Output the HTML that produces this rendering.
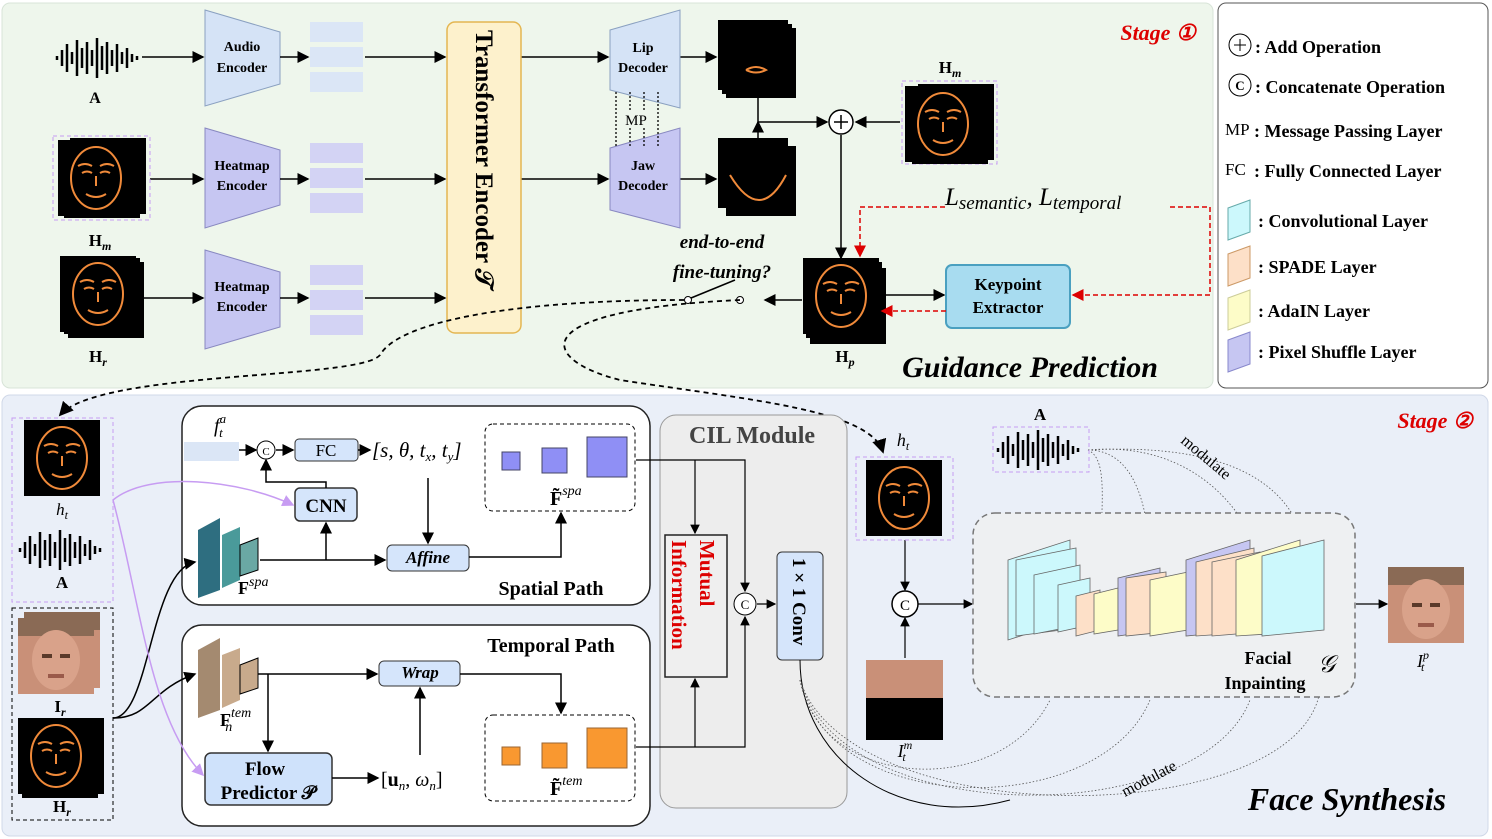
<!DOCTYPE html>
<html><head><meta charset="utf-8"><style>
body{margin:0;background:#fff}
svg{display:block}
text{font-family:"Liberation Serif",serif}
.b{font-weight:bold}
</style></head><body>
<svg width="1492" height="839" viewBox="0 0 1492 839" xmlns="http://www.w3.org/2000/svg">
<defs>
<marker id="ar" markerWidth="8" markerHeight="8" refX="7" refY="4" orient="auto"><path d="M0,0L8,4L0,8z" fill="#000"/></marker>
<marker id="arr" markerWidth="8" markerHeight="8" refX="7" refY="4" orient="auto"><path d="M0,0L8,4L0,8z" fill="#d00"/></marker>
<marker id="arp" markerWidth="8" markerHeight="8" refX="7" refY="4" orient="auto"><path d="M0,0L8,4L0,8z" fill="#c79cf2"/></marker>
<g id="hm"><rect width="76" height="76" fill="#000"/><ellipse cx="38" cy="38" rx="25" ry="31" fill="none" stroke="#f08a3a" stroke-width="2"/><path d="M20,26q7,-4 14,0M42,26q7,-4 14,0M24,33q5,-3 10,0M42,33q5,-3 10,0M38,36v10M28,54q10,6 20,0" stroke="#f08a3a" stroke-width="2" fill="none"/></g>
<g id="face"><rect width="76" height="76" fill="#c99078"/><rect y="0" width="76" height="18" fill="#8a6a55"/><ellipse cx="38" cy="42" rx="24" ry="30" fill="#d9a28a"/><rect x="24" y="36" width="10" height="4" fill="#5a3a2a"/><rect x="42" y="36" width="10" height="4" fill="#5a3a2a"/><rect x="30" y="56" width="16" height="4" fill="#9a5a4a"/></g>
<g id="wave" stroke="#000" stroke-width="2.5">
<path d="M0,18v4M5,12v16M10,6v28M15,14v12M20,2v36M25,10v20M30,4v32M35,12v16M40,0v40M45,8v24M50,4v32M55,12v16M60,6v28M65,14v12M70,10v20M75,16v8M80,18v4"/></g>
</defs>

<rect x="2" y="3" width="1211" height="385" rx="8" fill="#eef6ec" stroke="#d8e4d8"/>
<rect x="1218" y="3" width="270" height="385" rx="8" fill="#fff" stroke="#555"/>
<rect x="2" y="395" width="1486" height="441" rx="8" fill="#eaeff8" stroke="#d0d8e8"/>

<use href="#wave" x="57" y="38"/>
<text x="95" y="103" font-size="16" class="b" text-anchor="middle">A</text>
<polygon points="205,10 280,32 280,84 205,106" fill="#d5e3f6" stroke="#8aa0c0"/>
<text x="242" y="51" font-size="14" class="b" text-anchor="middle">Audio</text>
<text x="242" y="72" font-size="14" class="b" text-anchor="middle">Encoder</text>
<polygon points="205,128 280,150 280,205 205,228" fill="#c6c6f2" stroke="#8888c0"/>
<text x="242" y="170" font-size="14" class="b" text-anchor="middle">Heatmap</text>
<text x="242" y="190" font-size="14" class="b" text-anchor="middle">Encoder</text>
<polygon points="205,250 280,272 280,327 205,349" fill="#c6c6f2" stroke="#8888c0"/>
<text x="242" y="291" font-size="14" class="b" text-anchor="middle">Heatmap</text>
<text x="242" y="311" font-size="14" class="b" text-anchor="middle">Encoder</text>
<g fill="#dbe6f6"><rect x="310" y="22" width="53" height="20"/><rect x="310" y="47" width="53" height="20"/><rect x="310" y="72" width="53" height="20"/></g>
<g fill="#d3d3f4"><rect x="310" y="143" width="53" height="20"/><rect x="310" y="168" width="53" height="20"/><rect x="310" y="193" width="53" height="20"/></g>
<g fill="#d3d3f4"><rect x="310" y="265" width="53" height="20"/><rect x="310" y="290" width="53" height="20"/><rect x="310" y="315" width="53" height="20"/></g>
<g stroke="#000" stroke-width="1.5" fill="none" marker-end="url(#ar)">
<path d="M142,57H203"/><path d="M150,179H203"/><path d="M140,298H203"/>
<path d="M280,57H308"/><path d="M280,179H308"/><path d="M280,298H308"/>
<path d="M365,57H445"/><path d="M365,179H445"/><path d="M365,298H445"/>
<path d="M521,57H608"/><path d="M521,179H608"/>
<path d="M680,57H716"/><path d="M680,179H716"/>
<path d="M758,57V122H827"/><path d="M758,179V122"/>
<path d="M900,122H856"/><path d="M841,135V258"/>
<path d="M882,295H944"/>
<path d="M802,300H765"/>
</g>
<rect x="447" y="22" width="74" height="311" rx="8" fill="#fdf1cc" stroke="#e4b651" stroke-width="1.5"/>
<text transform="translate(476,30) rotate(90)" font-size="25" class="b">Transformer Encoder 𝒯</text>
<polygon points="610,30 680,10 680,108 610,90" fill="#d5e3f6" stroke="#8aa0c0"/>
<text x="643" y="52" font-size="14" class="b" text-anchor="middle">Lip</text>
<text x="643" y="72" font-size="14" class="b" text-anchor="middle">Decoder</text>
<polygon points="610,148 680,128 680,228 610,210" fill="#c6c6f2" stroke="#8888c0"/>
<text x="643" y="170" font-size="14" class="b" text-anchor="middle">Jaw</text>
<text x="643" y="190" font-size="14" class="b" text-anchor="middle">Decoder</text>
<g stroke="#000" stroke-dasharray="2,2" stroke-width="1.3"><path d="M616,92V146M630,92V146M644,92V146M658,92V146"/></g>
<rect x="620" y="110" width="32" height="18" fill="#eef6ec"/>
<text x="636" y="125" font-size="15" font-family="Liberation Sans" text-anchor="middle">MP</text>
<rect x="726" y="28" width="70" height="70" fill="#000"/><rect x="722" y="24" width="70" height="70" fill="#000"/><rect x="718" y="20" width="70" height="70" fill="#000"/>
<path d="M746,70q10,-6 20,0q-10,5 -20,0" stroke="#f08a3a" fill="none" stroke-width="2"/>
<rect x="726" y="146" width="70" height="70" fill="#000"/><rect x="718" y="138" width="70" height="70" fill="#000"/>
<path d="M730,175q30,50 56,0" stroke="#f08a3a" fill="none" stroke-width="2"/>
<circle cx="841" cy="122" r="12" fill="#fff" stroke="#000" stroke-width="1.5"/><path d="M834,122h14M841,115v14" stroke="#000" stroke-width="1.5"/>
<text x="950" y="73" font-size="17" class="b" text-anchor="middle">H<tspan font-size="12" dy="4" font-style="italic">m</tspan></text>
<rect x="902" y="81" width="95" height="83" fill="none" stroke="#c79cf2" stroke-dasharray="4,3"/>
<use href="#hm" x="918" y="84"/><use href="#hm" x="912" y="88"/><use href="#hm" x="905" y="86"/>
<rect x="53" y="136" width="97" height="84" fill="none" stroke="#c79cf2" stroke-dasharray="4,3"/>
<use href="#hm" x="70" y="138"/><use href="#hm" x="64" y="142"/><use href="#hm" x="58" y="140"/>
<text x="100" y="246" font-size="17" class="b" text-anchor="middle">H<tspan font-size="12" dy="4" font-style="italic">m</tspan></text>
<use href="#hm" x="68" y="262"/><use href="#hm" x="64" y="258"/><use href="#hm" x="60" y="256"/>
<text x="98" y="362" font-size="17" class="b" text-anchor="middle">H<tspan font-size="12" dy="4" font-style="italic">r</tspan></text>
<use href="#hm" x="810" y="268"/><use href="#hm" x="806" y="262"/><use href="#hm" x="803" y="258"/>
<text x="845" y="362" font-size="17" class="b" text-anchor="middle">H<tspan font-size="12" dy="4" font-style="italic">p</tspan></text>
<rect x="946" y="265" width="124" height="63" rx="6" fill="#a8dcf0" stroke="#4aa0c0" stroke-width="2"/>
<text x="1008" y="290" font-size="17" class="b" text-anchor="middle">Keypoint</text>
<text x="1008" y="313" font-size="17" class="b" text-anchor="middle">Extractor</text>
<g stroke="#d00" stroke-width="1.5" stroke-dasharray="5,3" fill="none">
<path d="M945,207H860V256" marker-end="url(#arr)"/>
<path d="M1170,207H1210V295H1073" marker-end="url(#arr)"/>
<path d="M946,311H882" marker-end="url(#arr)"/>
</g>
<text x="945" y="205" font-size="25" font-style="italic">L<tspan font-size="19" dy="4">semantic</tspan><tspan dy="-4">, L</tspan><tspan font-size="19" dy="4">temporal</tspan></text>
<text x="722" y="248" font-size="19" class="b" font-style="italic" text-anchor="middle">end-to-end</text>
<text x="722" y="278" font-size="19" class="b" font-style="italic" text-anchor="middle">fine-tuning?</text>
<circle cx="688" cy="300" r="3.5" fill="#fff" stroke="#000"/><circle cx="740" cy="300" r="3.5" fill="#fff" stroke="#000"/>
<path d="M691,298L735,280" stroke="#000" stroke-width="1.5"/>
<text x="1030" y="377" font-size="30" class="b" font-style="italic" text-anchor="middle">Guidance Prediction</text>
<text x="1158" y="40" font-size="22" class="b" font-style="italic" fill="#d00" text-anchor="middle">Stage ①</text>
<g stroke="#000" stroke-width="1.8" stroke-dasharray="5,4" fill="none">
<path d="M684,300C520,300 400,320 380,355C360,380 100,370 60,415" marker-end="url(#ar)"/>
<path d="M740,300C520,310 540,360 620,380C750,400 870,410 883,452" marker-end="url(#ar)"/>
</g>

<g font-size="18" class="b">
<circle cx="1240" cy="45" r="11" fill="none" stroke="#000"/><path d="M1234,45h12M1240,39v12" stroke="#000"/>
<text x="1255" y="53" class="b">: Add Operation</text>
<circle cx="1240" cy="85" r="11" fill="none" stroke="#000"/><text x="1240" y="90" font-size="13" font-family="Liberation Sans" text-anchor="middle">C</text>
<text x="1255" y="93" class="b">: Concatenate Operation</text>
<text x="1225" y="135" font-family="Liberation Sans" font-weight="normal" font-size="17">MP</text><text x="1254" y="137" class="b">: Message Passing Layer</text>
<text x="1225" y="175" font-family="Liberation Sans" font-weight="normal" font-size="17">FC</text><text x="1254" y="177" class="b">: Fully Connected Layer</text>
<polygon points="1228,208 1250,200 1250,232 1228,240" fill="#ccf8fc" stroke="#6aa"/><text x="1258" y="227" class="b">: Convolutional Layer</text>
<polygon points="1228,254 1250,246 1250,278 1228,286" fill="#fde0c8" stroke="#c96"/><text x="1258" y="273" class="b">: SPADE Layer</text>
<polygon points="1228,298 1250,290 1250,322 1228,330" fill="#fdfcc8" stroke="#cc9"/><text x="1258" y="317" class="b">: AdaIN Layer</text>
<polygon points="1228,340 1250,332 1250,364 1228,372" fill="#c6c6f2" stroke="#88c"/><text x="1258" y="358" class="b">: Pixel Shuffle Layer</text>
</g>

<text x="1435" y="428" font-size="22" class="b" font-style="italic" fill="#d00" text-anchor="middle">Stage ②</text>
<rect x="12" y="418" width="101" height="184" fill="none" stroke="#c79cf2" stroke-dasharray="4,3"/>
<use href="#hm" x="24" y="420"/>
<text x="62" y="515" font-size="17" font-style="italic" text-anchor="middle">h<tspan font-size="12" dy="4">t</tspan></text>
<use href="#wave" x="20" y="530"/>
<text x="62" y="588" font-size="17" class="b" text-anchor="middle">A</text>
<rect x="12" y="608" width="101" height="212" fill="none" stroke="#000" stroke-dasharray="4,3"/>
<use href="#face" x="24" y="612"/><use href="#face" x="18" y="618"/>
<text x="60" y="712" font-size="17" class="b" text-anchor="middle">I<tspan font-size="12" dy="4" font-style="italic">r</tspan></text>
<use href="#hm" x="28" y="718"/><use href="#hm" x="22" y="722"/><use href="#hm" x="18" y="718"/>
<text x="62" y="812" font-size="17" class="b" text-anchor="middle">H<tspan font-size="12" dy="4" font-style="italic">r</tspan></text>

<rect x="182" y="406" width="468" height="199" rx="20" fill="#fff" stroke="#222" stroke-width="1.5"/>
<rect x="182" y="625" width="468" height="201" rx="20" fill="#fff" stroke="#222" stroke-width="1.5"/>
<text x="214" y="432" font-size="20" font-style="italic">f<tspan font-size="13" dy="-9">a</tspan><tspan font-size="13" dx="-7" dy="14">t</tspan></text>
<rect x="184" y="442" width="55" height="19" fill="#dbe6f6"/>
<circle cx="266" cy="450" r="9" fill="#fff" stroke="#000"/><text x="266" y="455" font-size="11" font-family="Liberation Sans" text-anchor="middle">C</text>
<rect x="295" y="439" width="63" height="22" rx="4" fill="#d5e5fb" stroke="#333"/><text x="326" y="456" font-size="17" font-family="Liberation Sans" text-anchor="middle">FC</text>
<text x="372" y="457" font-size="21" font-style="italic">[s, θ, t<tspan font-size="13" dy="4">x</tspan><tspan dy="-4">, t</tspan><tspan font-size="13" dy="4">y</tspan><tspan dy="-4">]</tspan></text>
<rect x="295" y="488" width="62" height="33" rx="5" fill="#d5e5fb" stroke="#333" stroke-width="1.5"/><text x="326" y="512" font-size="19" class="b" text-anchor="middle">CNN</text>
<rect x="387" y="545" width="82" height="26" rx="5" fill="#d5e5fb" stroke="#333"/><text x="428" y="563" font-size="17" class="b" font-style="italic" text-anchor="middle">Affine</text>
<rect x="485" y="424" width="150" height="87" rx="8" fill="none" stroke="#000" stroke-dasharray="4,3"/>
<rect x="502" y="452" width="18" height="18" fill="#8f8ff5" stroke="#446"/><rect x="542" y="448" width="25" height="25" fill="#8f8ff5" stroke="#446"/><rect x="587" y="437" width="40" height="40" fill="#8f8ff5" stroke="#446"/>
<text x="550" y="505" font-size="20" class="b">F̃<tspan font-size="14" font-style="italic" font-weight="normal" dy="-10">spa</tspan></text>
<polygon points="198,530 220,518 220,590 198,598" fill="#2e6e80"/><polygon points="222,535 240,527 240,580 222,588" fill="#4a9a9a"/><polygon points="240,545 258,538 258,570 240,576" fill="#6aa8a4" stroke="#000"/>
<text x="238" y="594" font-size="18" class="b">F<tspan font-size="14" font-style="italic" font-weight="normal" dy="-8">spa</tspan></text>
<text x="551" y="595" font-size="20" class="b" text-anchor="middle">Spatial Path</text>
<text x="551" y="652" font-size="20" class="b" text-anchor="middle">Temporal Path</text>
<polygon points="198,650 220,638 220,710 198,718" fill="#a48a70"/><polygon points="222,655 240,648 240,700 222,708" fill="#c8aa8c"/><polygon points="240,665 258,658 258,688 240,694" fill="#c8aa8c" stroke="#000"/>
<text x="220" y="726" font-size="18" class="b">F<tspan font-size="14" font-style="italic" font-weight="normal" dy="-9">tem</tspan><tspan font-size="14" font-style="italic" font-weight="normal" dx="-26" dy="14">n</tspan></text>
<rect x="379" y="661" width="81" height="25" rx="5" fill="#d5e5fb" stroke="#333"/><text x="420" y="678" font-size="17" class="b" font-style="italic" text-anchor="middle">Wrap</text>
<rect x="205" y="753" width="127" height="52" rx="6" fill="#cfe2fb" stroke="#333" stroke-width="1.5"/>
<text x="265" y="775" font-size="19" class="b" text-anchor="middle">Flow</text><text x="268" y="799" font-size="19" class="b" text-anchor="middle">Predictor 𝒫</text>
<text x="381" y="786" font-size="20">[<tspan font-weight="bold">u</tspan><tspan font-size="13" font-style="italic" dy="4">n</tspan><tspan dy="-4">, </tspan><tspan font-style="italic">ω</tspan><tspan font-size="13" font-style="italic" dy="4">n</tspan><tspan dy="-4">]</tspan></text>
<rect x="485" y="715" width="150" height="86" rx="8" fill="none" stroke="#000" stroke-dasharray="4,3"/>
<rect x="502" y="747" width="18" height="18" fill="#f99830" stroke="#963"/><rect x="542" y="743" width="25" height="25" fill="#f99830" stroke="#963"/><rect x="587" y="728" width="40" height="40" fill="#f99830" stroke="#963"/>
<text x="550" y="795" font-size="20" class="b">F̃<tspan font-size="14" font-style="italic" font-weight="normal" dy="-10">tem</tspan></text>
<g stroke="#000" stroke-width="1.5" fill="none" marker-end="url(#ar)">
<path d="M239,450H256"/><path d="M276,450H293"/><path d="M358,450H370"/>
<path d="M326,488V482H266V460"/><path d="M260,560H385"/><path d="M326,560V523"/>
<path d="M428,478V543"/><path d="M469,557H561V513"/>
<path d="M258,674H377"/><path d="M268,674V751"/><path d="M460,674H561V713"/>
<path d="M332,778H378"/><path d="M420,755V688"/>
<path d="M113,718C150,718 150,570 195,562"/><path d="M113,718C150,718 150,690 195,674"/>
</g>
<g stroke="#c79cf2" stroke-width="1.5" fill="none" marker-end="url(#arp)">
<path d="M113,500C150,470 240,480 293,505"/><path d="M113,500C140,600 150,720 203,775"/>
</g>
<rect x="660" y="415" width="187" height="393" rx="16" fill="#ededed" stroke="#999"/>
<text x="752" y="443" font-size="24" class="b" fill="#444" text-anchor="middle">CIL Module</text>
<rect x="665" y="535" width="62" height="142" fill="#efefef" stroke="#222" stroke-width="1.5"/>
<text transform="translate(700,540) rotate(90)" font-size="21" class="b" fill="#d00">Mutual</text>
<text transform="translate(672,540) rotate(90)" font-size="21" class="b" fill="#d00">Information</text>
<rect x="777" y="552" width="46" height="108" rx="5" fill="#d5e5fb" stroke="#333"/>
<text transform="translate(793,558) rotate(90)" font-size="19" class="b">1 × 1 Conv</text>
<circle cx="745" cy="604" r="11" fill="#fff" stroke="#000"/><text x="745" y="609" font-size="13" font-family="Liberation Sans" text-anchor="middle">C</text>
<g stroke="#000" stroke-width="1.2" fill="none" marker-end="url(#ar)">
<path d="M636,460H745V591"/><path d="M636,747H745V617"/><path d="M695,460V533"/><path d="M695,747V679"/>
<path d="M757,604H775"/>
<path d="M905,540V590"/><path d="M905,658V618"/><path d="M918,604H972"/><path d="M1356,604H1387"/>
</g>
<path d="M800,660C800,760 900,830 1010,800" stroke="#000" stroke-width="1" fill="none"/>
<g stroke="#555" stroke-width="0.8" stroke-dasharray="1.5,2" fill="none">
<path d="M1088,450C1110,460 1100,510 1100,580"/><path d="M1088,450C1140,450 1150,520 1150,570"/><path d="M1088,450C1200,440 1250,520 1260,560"/><path d="M1088,450C1280,440 1300,520 1310,560"/>
<path d="M800,680C820,790 1000,800 1050,700"/><path d="M800,680C830,820 1100,820 1150,700"/><path d="M800,680C840,830 1200,830 1250,700"/><path d="M800,680C850,835 1300,830 1320,690"/>
</g>
<text transform="translate(1180,442) rotate(40)" font-size="16">modulate</text>
<text transform="translate(1125,797) rotate(-28)" font-size="16">modulate</text>
<text x="903" y="446" font-size="18" font-style="italic" text-anchor="middle">h<tspan font-size="12" dy="4">t</tspan></text>
<rect x="856" y="457" width="97" height="83" fill="none" stroke="#c79cf2" stroke-dasharray="4,3"/>
<use href="#hm" x="866" y="460"/>
<circle cx="905" cy="604" r="13" fill="#fff" stroke="#000" stroke-width="1.5"/><text x="905" y="610" font-size="15" font-family="Liberation Sans" text-anchor="middle">C</text>
<rect x="866" y="660" width="77" height="80" fill="#000"/><rect x="866" y="660" width="77" height="38" fill="#c99078"/>
<text x="905" y="757" font-size="18" font-style="italic" text-anchor="middle">I<tspan font-size="12" dy="-8">m</tspan><tspan font-size="12" dx="-10" dy="12">t</tspan></text>
<text x="1040" y="420" font-size="17" class="b" text-anchor="middle">A</text>
<rect x="993" y="427" width="96" height="45" fill="none" stroke="#c79cf2" stroke-dasharray="4,3"/>
<use href="#wave" x="998" y="430"/>
<rect x="973" y="513" width="382" height="184" rx="22" fill="#eef0f2" stroke="#777" stroke-width="1.5" stroke-dasharray="6,4"/>
<g stroke="#666" stroke-width="0.8">
<polygon points="1008,560 1070,540 1070,620 1008,640" fill="#ccf8fc"/><polygon points="1016,560 1076,548 1076,628 1016,636" fill="#ccf8fc"/>
<polygon points="1034,575 1080,565 1080,625 1034,634" fill="#ccf8fc"/><polygon points="1058,585 1090,578 1090,625 1058,632" fill="#ccf8fc"/>
<polygon points="1076,596 1100,590 1100,630 1076,636" fill="#fde0c8"/><polygon points="1094,594 1118,588 1118,630 1094,634" fill="#fdfcc8"/>
<polygon points="1118,578 1160,568 1160,630 1118,636" fill="#c6c6f2"/><polygon points="1126,578 1166,572 1166,632 1126,636" fill="#fde0c8"/><polygon points="1150,580 1188,572 1188,630 1150,636" fill="#fdfcc8"/>
<polygon points="1186,560 1250,540 1250,630 1186,636" fill="#c6c6f2"/><polygon points="1196,562 1254,548 1254,632 1196,636" fill="#fde0c8"/><polygon points="1212,562 1260,552 1260,632 1212,636" fill="#fde0c8"/>
<polygon points="1236,560 1300,540 1300,632 1236,636" fill="#fdfcc8"/><polygon points="1262,556 1324,540 1324,630 1262,636" fill="#ccf8fc"/>
</g>
<text x="1268" y="664" font-size="18" class="b" text-anchor="middle">Facial</text>
<text x="1265" y="689" font-size="18" class="b" text-anchor="middle">Inpainting</text>
<text x="1318" y="672" font-size="24" font-style="italic">𝒢</text>
<use href="#face" x="1388" y="567"/>
<text x="1423" y="667" font-size="18" font-style="italic" text-anchor="middle">I<tspan font-size="12" dy="-8">p</tspan><tspan font-size="12" dx="-8" dy="12">t</tspan></text>
<text x="1347" y="810" font-size="32" class="b" font-style="italic" text-anchor="middle">Face Synthesis</text>
</svg>
</body></html>
